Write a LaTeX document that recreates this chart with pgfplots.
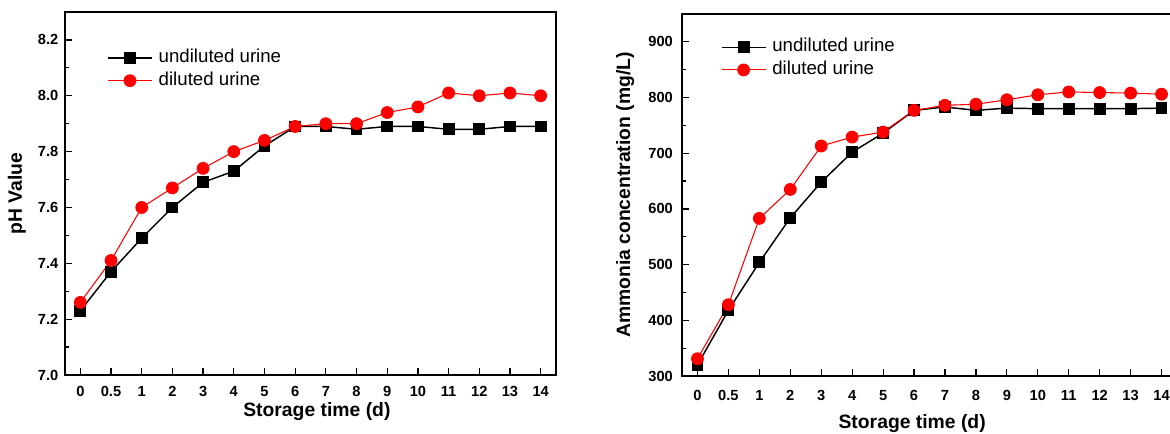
\documentclass[border=0pt]{standalone}
\usepackage{fontspec}
\setmainfont{Liberation Sans}
\usepackage{pgfplots}
\usepackage{pgfplotstable}
\pgfplotsset{compat=1.18}

% idx = category position; day labels 0,0.5,1,...,14
\pgfplotstableread{
idx phu  phd  nhu nhd
0   7.23 7.26 320 331
1   7.37 7.41 418 428
2   7.49 7.60 504 583
3   7.60 7.67 584 635
4   7.69 7.74 648 713
5   7.73 7.80 702 729
6   7.82 7.84 736 738
7   7.89 7.89 777 777
8   7.89 7.90 783 786
9   7.88 7.90 777 788
10  7.89 7.94 781 796
11  7.89 7.96 780 805
12  7.88 8.01 780 810
13  7.88 8.00 780 809
14  7.89 8.01 780 808
15  7.89 8.00 781 806
}\urine

\pgfplotsset{
  panel/.style={
    scale only axis,
    clip=false,
    axis line style={line width=1.1pt},
    xmin=-0.5, xmax=15.5,
    xtick={0,...,15},
    xticklabels={0,0.5,1,2,3,4,5,6,7,8,9,10,11,12,13,14},
    tick align=inside,
    xtick pos=bottom, ytick pos=left,
    major tick length=5.25pt, minor tick length=3pt,
    tick style={line width=0.9pt, black},
    minor y tick num=1,
    tick label style={font=\fontsize{11}{13}\selectfont\bfseries},
    /pgf/number format/assume math mode=true,
    label style={font=\fontsize{14.5}{17}\selectfont\bfseries},
    legend style={draw=none, fill=none, anchor=north west,
      font=\fontsize{14}{16}\selectfont,
      nodes={inner sep=0pt, text height=9pt, text depth=3pt},
      row sep=4.5pt, inner sep=0pt},
    legend cell align=left,
    legend image code/.code={
      \draw[mark repeat=2, mark phase=2, #1]
        plot coordinates {(0pt,0.5pt) (16.5pt,0.5pt) (33pt,0.5pt)};
      \node[inner sep=0pt] at (36.5pt,0.5pt) {};
    },
  },
  undil/.style={black, line width=1.1pt, mark=square*, mark size=3.9pt, mark options={solid}},
  dil/.style={red, line width=0.8pt, mark=*, mark size=4.4pt, mark options={solid}},
}

\begin{document}
\begin{tikzpicture}
  \begin{axis}[panel,
      at={(48.75pt,44.25pt)}, anchor=south west,
      width=368.25pt, height=272.25pt,
      ymin=7.0, ymax=8.3,
      ytick={7.0,7.2,...,8.21},
      yticklabel style={xshift=-1.5pt, /pgf/number format/.cd, fixed, fixed zerofill, precision=1},
      xticklabel style={yshift=-5pt},
      xlabel={Storage time (d)},
      ylabel={pH Value},
      xlabel style={at={(axis description cs:0.513,-0.102)}, anchor=center},
      ylabel style={at={(axis description cs:-0.098,0.5)}, anchor=center},
      legend style={at={(axis description cs:0.0855,0.896)}},
    ]
    \addplot[undil] table[x=idx, y=phu] {\urine};
    \addlegendentry{undiluted urine}
    \addplot[dil] table[x=idx, y=phd] {\urine};
    \addlegendentry{diluted urine}
  \end{axis}

  \begin{axis}[panel,
      at={(511.5pt,43.5pt)}, anchor=south west,
      width=371.25pt, height=271.5pt,
      ymin=300, ymax=950,
      ytick={300,400,...,900},
      yticklabel style={xshift=-3.3pt},
      xticklabel style={yshift=-7pt},
      xlabel={Storage time (d)},
      ylabel={Ammonia concentration (mg/L)},
      xlabel style={at={(axis description cs:0.465,-0.13)}, anchor=center},
      ylabel style={at={(axis description cs:-0.115,0.5)}, anchor=center},
      legend style={at={(axis description cs:0.078,0.931)}},
    ]
    \addplot[undil] table[x=idx, y=nhu] {\urine};
    \addlegendentry{undiluted urine}
    \addplot[dil] table[x=idx, y=nhd] {\urine};
    \addlegendentry{diluted urine}
  \end{axis}

  \pgfresetboundingbox
  \path[use as bounding box] (0pt,0pt) rectangle (877.5pt,325.5pt);
\end{tikzpicture}
\end{document}
